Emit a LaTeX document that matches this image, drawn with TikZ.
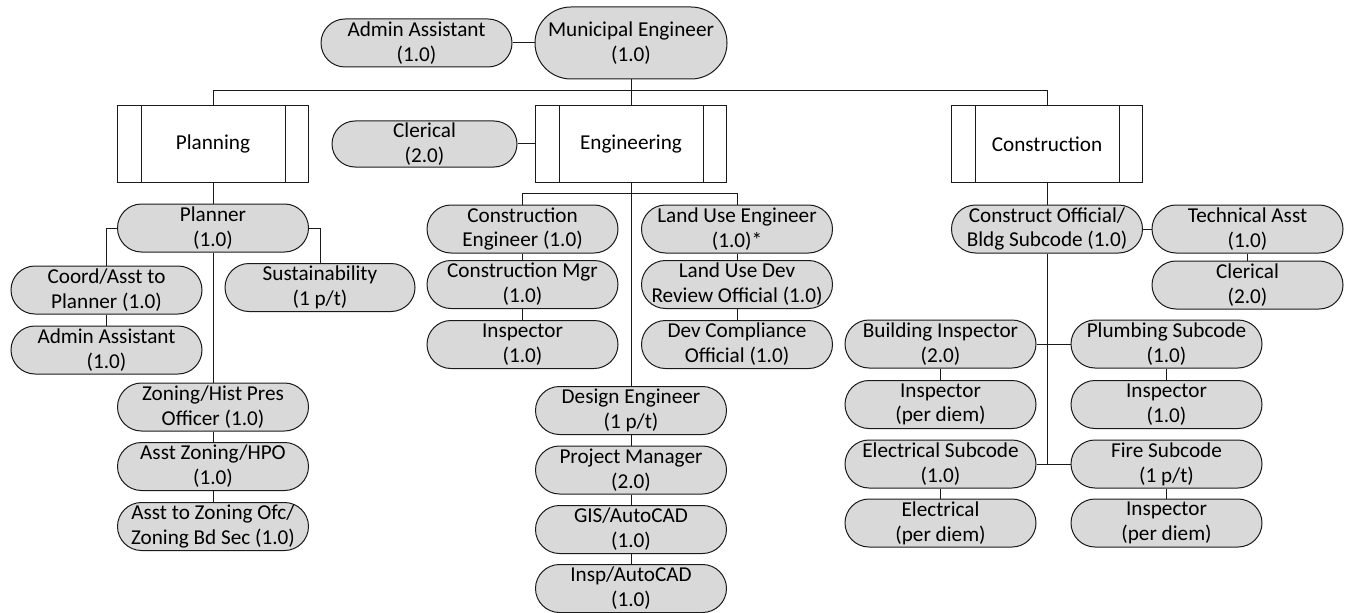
\documentclass[tikz,border=0pt]{standalone}
\usepackage{fontspec}
\setmainfont{Carlito}
\definecolor{boxfill}{HTML}{D9D9D9}
\definecolor{edge}{HTML}{1A1A1A}
\tikzset{
  labelfont/.style={font=\fontsize{15.9}{18.6}\selectfont},
  role/.style={draw=edge, fill=boxfill, line width=0.75pt, rounded corners=18pt,
    minimum width=143.25pt, minimum height=36pt, inner sep=0pt, align=center, labelfont},
  dept/.style={draw=edge, line width=0.75pt, minimum width=143.25pt, minimum height=57pt,
    inner sep=0pt, align=center, labelfont},
  link/.style={draw=edge, line width=0.75pt},
}
\begin{document}
\begin{tikzpicture}[x=0.75pt, y=-0.75pt]
\useasboundingbox (0,0) rectangle (1351,613);

% top level
\node[role, minimum width=144pt, minimum height=54pt, rounded corners=27pt] (mun) at (631,43) {Municipal Engineer\\(1.0)};
\node[role] (adm0) at (416.5,43) {Admin Assistant\\(1.0)};

% departments
\node[dept] (plan) at (213,144) {Planning};
\node[dept] (eng) at (631,144) {Engineering};
\node[dept] (cons) at (1047,144) {Construction};
\foreach \d in {plan,eng,cons}{
  \draw[link] ([xshift=18pt]\d.north west) -- ([xshift=18pt]\d.south west);
  \draw[link] ([xshift=-18pt]\d.north east) -- ([xshift=-18pt]\d.south east);
}
\node[role, minimum width=138.75pt, minimum height=34.5pt, rounded corners=17.25pt] (cler0) at (424.5,144) {Clerical\\(2.0)};

% planning
\node[role] (planner) at (213,228) {Planner\\(1.0)};
\node[role] (coord) at (106.5,290) {Coord/Asst to\\Planner (1.0)};
\node[role] (adm1) at (106.5,350) {Admin Assistant\\(1.0)};
\node[role, minimum width=142.5pt] (sust) at (320,287.5) {Sustainability\\(1 p/t)};
\node[role] (zon) at (213,407) {Zoning/Hist Pres\\Officer (1.0)};
\node[role] (asz) at (213,466.5) {Asst Zoning/HPO\\(1.0)};
\node[role] (atz) at (213,526.5) {Asst to Zoning Ofc/\\Zoning Bd Sec (1.0)};

% engineering
\node[role] (ce) at (522.5,229) {Construction\\Engineer (1.0)};
\node[role] (cm) at (522.5,284.5) {Construction Mgr\\(1.0)};
\node[role] (insp1) at (522.5,344.5) {Inspector\\(1.0)};
\node[role] (lue) at (737,229) {Land Use Engineer\\(1.0)*};
\node[role] (lud) at (737,284.5) {Land Use Dev\\Review Official (1.0)};
\node[role] (dco) at (737,344.5) {Dev Compliance\\Official (1.0)};
\node[role] (de) at (631,410.5) {Design Engineer\\(1 p/t)};
\node[role] (pm) at (631,470) {Project Manager\\(2.0)};
\node[role] (gis) at (631,529.5) {GIS/AutoCAD\\(1.0)};
\node[role] (ia) at (631,588.5) {Insp/AutoCAD\\(1.0)};

% construction
\node[role] (co) at (1047,229) {Construct Official/\\Bldg Subcode (1.0)};
\node[role] (ta) at (1247.5,229) {Technical Asst\\(1.0)};
\node[role] (cl2) at (1247.5,285) {Clerical\\(2.0)};
\node[role] (bi) at (940.5,344) {Building Inspector\\(2.0)};
\node[role] (pl) at (1166.5,344) {Plumbing Subcode\\(1.0)};
\node[role] (in2) at (940.5,404.5) {Inspector\\(per diem)};
\node[role] (in3) at (1166.5,404.5) {Inspector\\(1.0)};
\node[role] (es) at (940.5,464) {Electrical Subcode\\(1.0)};
\node[role] (fs) at (1166.5,464) {Fire Subcode\\(1 p/t)};
\node[role] (el) at (940.5,523) {Electrical\\(per diem)};
\node[role] (in4) at (1166.5,523) {Inspector\\(per diem)};

% bus levels
\coordinate (bus) at (0,91);
\coordinate (ebus) at (0,193);

% connectors: top level
\draw[link] (adm0.east) -- (mun.west);
\draw[link] (mun.south) -- (eng.north);
\draw[link] (plan.north) -- (plan.north |- bus) -- (cons.north |- bus) -- (cons.north);
\draw[link] (cler0.east) -- (eng.west);

% connectors: planning
\draw[link] (plan.south) -- (planner.north);
\draw[link] (planner.west) -| (coord.north);
\draw[link] (planner.east) -| (sust.north);
\draw[link] (coord.south) -- (adm1.north);
\draw[link] (planner.south) -- (zon.north);
\draw[link] (zon.south) -- (asz.north);
\draw[link] (asz.south) -- (atz.north);

% connectors: engineering
\draw[link] (eng.south) -- (de.north);
\draw[link] (ce.north) -- (ce.north |- ebus) -- (lue.north |- ebus) -- (lue.north);
\draw[link] (ce.south) -- (cm.north);
\draw[link] (cm.south) -- (insp1.north);
\draw[link] (lue.south) -- (lud.north);
\draw[link] (lud.south) -- (dco.north);
\draw[link] (de.south) -- (pm.north);
\draw[link] (pm.south) -- (gis.north);
\draw[link] (gis.south) -- (ia.north);

% connectors: construction
\draw[link] (cons.south) -- (co.north);
\draw[link] (co.east) -- (ta.west);
\draw[link] (ta.south) -- (cl2.north);
\draw[link] (co.south) -- (co.south |- fs.west);
\draw[link] (bi.east) -- (pl.west);
\draw[link] (es.east) -- (fs.west);
\draw[link] (bi.south) -- (in2.north);
\draw[link] (pl.south) -- (in3.north);
\draw[link] (es.south) -- (el.north);
\draw[link] (fs.south) -- (in4.north);
\end{tikzpicture}
\end{document}
